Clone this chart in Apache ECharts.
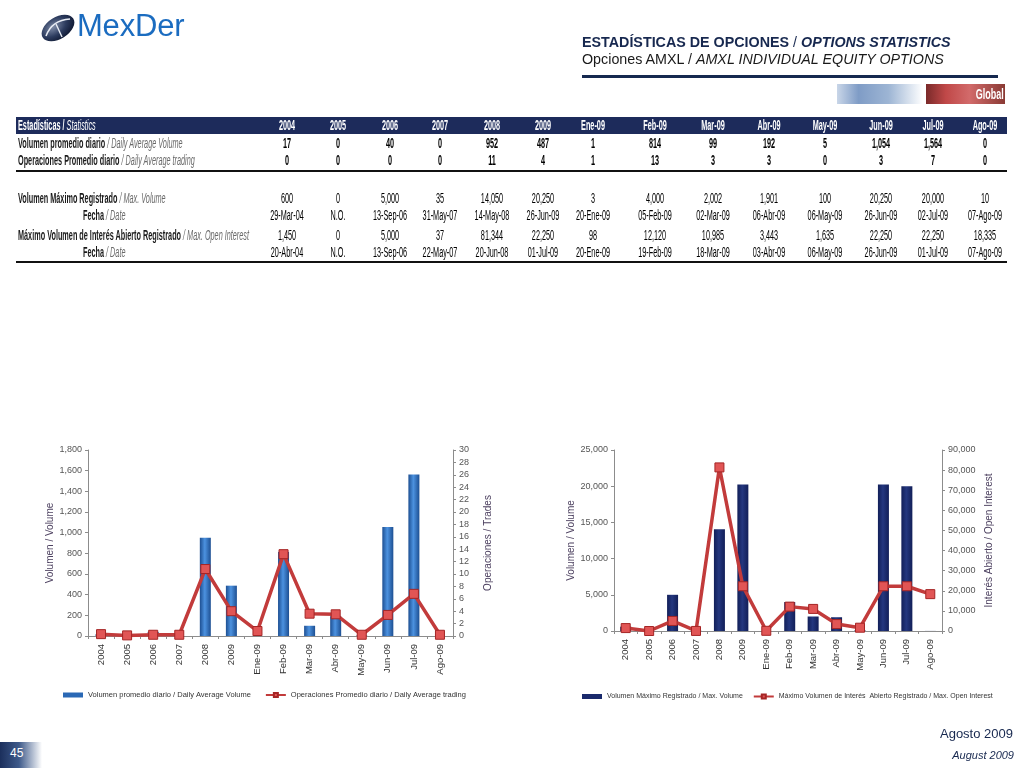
<!DOCTYPE html>
<html>
<head>
<meta charset="utf-8">
<script src="https://cdn.jsdelivr.net/npm/echarts@6/dist/echarts.min.js"></script>
<style>
  html, body { margin:0; padding:0; background:#fff; }
  body { width:1024px; height:768px; position:relative; overflow:hidden; font-family:"Liberation Sans", Arial, sans-serif; }
  #chart { position:absolute; left:0; top:0; width:1024px; height:768px; }
  .abs { position:absolute; white-space:nowrap; }
  .tbl { font-family:"Liberation Sans", Arial, sans-serif; font-size:14px; color:#000; }
  .cell { position:absolute; width:100px; text-align:center; white-space:nowrap; line-height:15px; transform:scaleX(0.52); transform-origin:50% 50%; }
  .lab { position:absolute; white-space:nowrap; line-height:15px; transform:scaleX(0.52); transform-origin:0 50%; }
  .en { font-style:italic; color:#6a6a6a; font-weight:normal; }
</style>
</head>
<body>
<div id="chart"></div>
<div id="overlay"></div>
<script>
// ---------------- DATA ----------------
const categories = ['2004','2005','2006','2007','2008','2009','Ene-09','Feb-09','Mar-09','Abr-09','May-09','Jun-09','Jul-09','Ago-09'];
const dailyVolume = [17, 0, 40, 0, 952, 487, 1, 814, 99, 192, 5, 1054, 1564, 0];
const dailyTrades = [0, 0, 0, 0, 11, 4, 1, 13, 3, 3, 0, 3, 7, 0];
// trades as plotted in the chart (unrounded)
const dailyTradesPlotted = [0.3, 0.1, 0.2, 0.2, 10.8, 4.0, 0.8, 13.2, 3.6, 3.5, 0.2, 3.4, 6.8, 0.2];
const maxVolume = [600, 0, 5000, 35, 14050, 20250, 3, 4000, 2002, 1901, 100, 20250, 20000, 10];
const maxVolumeDate = ['29-Mar-04','N.O.','13-Sep-06','31-May-07','14-May-08','26-Jun-09','20-Ene-09','05-Feb-09','02-Mar-09','06-Abr-09','06-May-09','26-Jun-09','02-Jul-09','07-Ago-09'];
const maxOpenInterest = [1450, 0, 5000, 37, 81344, 22250, 98, 12120, 10985, 3443, 1635, 22250, 22250, 18335];
const maxOpenInterestDate = ['20-Abr-04','N.O.','13-Sep-06','22-May-07','20-Jun-08','01-Jul-09','20-Ene-09','19-Feb-09','18-Mar-09','03-Abr-09','06-May-09','26-Jun-09','01-Jul-09','07-Ago-09'];
const leftAxisTicks = {min:0, max:1800, interval:200};
const rightAxisTicks = {min:0, max:30, interval:2};
const leftAxisTicks2 = {min:0, max:25000, interval:5000};
const rightAxisTicks2 = {min:0, max:90000, interval:10000};

// ---------------- HEADER / TABLE (HTML) ----------------
const fmt = v => typeof v === 'number' ? v.toLocaleString('en-US') : v;
const ov = document.getElementById('overlay');
let h = '';
// logo
h += `<svg class="abs" style="left:38px;top:10px" width="42" height="36" viewBox="0 0 42 36">
  <defs><radialGradient id="lg" cx="0.4" cy="0.35" r="0.7"><stop offset="0" stop-color="#7d8aa6"/><stop offset="0.55" stop-color="#2c3b5e"/><stop offset="1" stop-color="#0e1730"/></radialGradient></defs>
  <ellipse cx="20" cy="18" rx="18" ry="11" transform="rotate(-32 20 18)" fill="url(#lg)"/>
  <path d="M8 26 Q14 10 32 9" stroke="#e8ecf4" stroke-width="1.6" fill="none"/>
  <path d="M18 14 L24 27" stroke="#e8ecf4" stroke-width="1.4" fill="none"/>
</svg>`;
h += `<div class="abs" style="left:77px;top:8px;font-size:31px;color:#1b6cc0;font-family:'Liberation Sans',Arial,sans-serif;letter-spacing:-0.2px">MexDer</div>`;
// titles
h += `<div class="abs" style="left:582px;top:34px;font-size:14.3px;font-weight:bold;color:#17284f">ESTADÍSTICAS DE OPCIONES <span style="font-weight:normal">/</span> <i>OPTIONS STATISTICS</i></div>`;
h += `<div class="abs" style="left:582px;top:51px;font-size:14.3px;color:#1a1a1a">Opciones AMXL / <i>AMXL INDIVIDUAL EQUITY OPTIONS</i></div>`;
h += `<div class="abs" style="left:582px;top:75px;width:416px;height:3px;background:#16294f"></div>`;
h += `<div class="abs" style="left:837px;top:84px;width:86px;height:20px;background:linear-gradient(90deg,#c9d6e8 0%,#7f9cc6 25%,#9db5d4 60%,#ffffff 100%)"></div>`;
h += `<div class="abs" style="left:926px;top:84px;width:79px;height:20px;background:linear-gradient(90deg,#7a2a2a 0%,#c04848 25%,#d26a6a 55%,#8a3a34 100%)"></div>`;
h += `<div class="abs" style="right:20px;top:86px;font-size:15px;color:#fff;font-weight:bold;line-height:16px;transform:scaleX(0.6);transform-origin:100% 50%">Global</div>`;

// table
const colX = [287,338,390,440,492,543,593,655,713,769,825,881,933,985];
h += `<div class="tbl" style="position:absolute;left:0;top:0;width:1024px;height:300px">`;
h += `<div class="abs" style="left:16px;top:117px;width:991px;height:17px;background:#1d2b5b"></div>`;
h += `<div class="lab" style="left:18px;top:118px;color:#fff;font-weight:bold">Estadísticas / <span style="font-weight:normal;font-style:italic">Statistics</span></div>`;
categories.forEach((c,i)=>{ h += `<div class="cell" style="left:${colX[i]-50}px;top:118px;color:#fff;font-weight:bold">${c}</div>`; });
const rows = [
  {y:136, x:18, label:'Volumen promedio diario <span class="en">/ Daily Average Volume</span>', data:dailyVolume, bold:true},
  {y:153, x:18, label:'Operaciones Promedio diario <span class="en">/ Daily Average trading</span>', data:dailyTrades, bold:true},
  {y:191, x:18, label:'Volumen Máximo Registrado <span class="en">/ Max. Volume</span>', data:maxVolume, bold:false},
  {y:208, x:83, label:'Fecha <span class="en">/ Date</span>', data:maxVolumeDate, bold:false},
  {y:228, x:18, label:'Máximo Volumen de Interés Abierto Registrado <span class="en">/ Max. Open Interest</span>', data:maxOpenInterest, bold:false},
  {y:245, x:83, label:'Fecha <span class="en">/ Date</span>', data:maxOpenInterestDate, bold:false}
];
rows.forEach(r=>{
  h += `<div class="lab" style="left:${r.x}px;top:${r.y}px;font-weight:bold;color:#1a1a1a">${r.label}</div>`;
  r.data.forEach((v,i)=>{ h += `<div class="cell" style="left:${colX[i]-50}px;top:${r.y}px;${r.bold?'font-weight:bold;':''}">${fmt(v)}</div>`; });
});
h += `<div class="abs" style="left:16px;top:170px;width:991px;height:2px;background:#111"></div>`;
h += `<div class="abs" style="left:16px;top:261px;width:991px;height:2px;background:#111"></div>`;
h += `</div>`;
// footer
h += `<div class="abs" style="right:11px;top:726px;font-size:13px;color:#17284f">Agosto 2009</div>`;
h += `<div class="abs" style="right:10px;top:749px;font-size:11px;color:#17284f;font-style:italic">August 2009</div>`;
h += `<div class="abs" style="left:0;top:742px;width:42px;height:26px;background:linear-gradient(90deg,#1b2f5c 0%,#3e5a8a 45%,#ffffff 100%)"></div>`;
h += `<div class="abs" style="left:10px;top:746px;font-size:12px;color:#fff">45</div>`;
ov.innerHTML = h;

// ---------------- CHARTS ----------------
const chart = echarts.init(document.getElementById('chart'), null, {renderer:'canvas'});
const axisTxt = {color:'#555', fontSize:9, fontFamily:'Liberation Sans, Arial, sans-serif'};
const nameTxt = {color:'#4d4160', fontSize:10, fontFamily:'Liberation Sans, Arial, sans-serif'};
const axLine = {show:true, lineStyle:{color:'#8c8c8c', width:1}};
const axTick = {show:true, length:3, lineStyle:{color:'#8c8c8c'}};
const comma = v => v.toLocaleString('en-US');
const lineSeries = (name, data, xi, yi) => ({
  name, type:'line', data, xAxisIndex:xi, yAxisIndex:yi,
  symbol:'rect', symbolSize:9,
  lineStyle:{color:'#c23b3b', width:3.5},
  itemStyle:{color:'#e15555', borderColor:'#a52525', borderWidth:1},
  z:5
});
const xAxisBase = (gi) => ({
  type:'category', data:categories, gridIndex:gi,
  axisLine:axLine, axisTick:{show:true, length:3, alignWithLabel:false, lineStyle:{color:'#8c8c8c'}},
  axisLabel:{...axisTxt, color:'#333', fontSize:9.5, rotate:90, margin:8, interval:0}
});
const legendText = {fontSize:7.5, color:'#333', fontFamily:'Liberation Sans, Arial, sans-serif'};

const option = {
  animation:false,
  legend:[
    {left:58, top:686, itemGap:14, itemWidth:20, itemHeight:5, textStyle:legendText,
     data:[{name:'Volumen promedio diario / Daily Average Volume', icon:'rect', itemStyle:{color:'#2a68b5'}},
           {name:'Operaciones Promedio diario / Daily Average trading'}]},
    {left:577, top:688, itemGap:10, itemWidth:20, itemHeight:5, width:447, textStyle:{...legendText, fontSize:7},
     data:[{name:'Volumen Máximo Registrado / Max. Volume', icon:'rect', itemStyle:{color:'#1a2a6c'}},
           {name:'Máximo Volumen de Interés  Abierto Registrado / Max. Open Interest'}]}
  ],
  grid:[
    {left:88, top:450, width:365, height:186},
    {left:614, top:450, width:328, height:181}
  ],
  xAxis:[ xAxisBase(0), xAxisBase(1) ],
  yAxis:[
    {type:'value', gridIndex:0, ...leftAxisTicks, name:'Volumen / Volume', nameLocation:'middle', nameGap:32, nameTextStyle:nameTxt,
     axisLine:axLine, axisTick:axTick, splitLine:{show:false}, axisLabel:{...axisTxt, margin:6, formatter:comma}},
    {type:'value', gridIndex:0, position:'right', ...rightAxisTicks, name:'Operaciones / Trades', nameLocation:'middle', nameGap:30, nameRotate:90, nameTextStyle:nameTxt,
     axisLine:axLine, axisTick:axTick, splitLine:{show:false}, axisLabel:{...axisTxt, margin:6}},
    {type:'value', gridIndex:1, ...leftAxisTicks2, name:'Volumen / Volume', nameLocation:'middle', nameGap:38, nameTextStyle:nameTxt,
     axisLine:axLine, axisTick:axTick, splitLine:{show:false}, axisLabel:{...axisTxt, margin:6, formatter:comma}},
    {type:'value', gridIndex:1, position:'right', ...rightAxisTicks2, name:'Interés Abierto / Open Interest', nameLocation:'middle', nameGap:42, nameRotate:90, nameTextStyle:nameTxt,
     axisLine:axLine, axisTick:axTick, splitLine:{show:false}, axisLabel:{...axisTxt, margin:6, formatter:comma}}
  ],
  series:[
    {name:'Volumen promedio diario / Daily Average Volume', type:'bar', data:dailyVolume, xAxisIndex:0, yAxisIndex:0, barWidth:11,
     itemStyle:{color:new echarts.graphic.LinearGradient(0,0,1,0,[{offset:0,color:'#1d4f92'},{offset:0.45,color:'#4c92e0'},{offset:1,color:'#1d4f92'}])}},
    lineSeries('Operaciones Promedio diario / Daily Average trading', dailyTradesPlotted, 0, 1),
    {name:'Volumen Máximo Registrado / Max. Volume', type:'bar', data:maxVolume, xAxisIndex:1, yAxisIndex:2, barWidth:11,
     itemStyle:{color:new echarts.graphic.LinearGradient(0,0,1,0,[{offset:0,color:'#121f58'},{offset:0.45,color:'#24377f'},{offset:1,color:'#121f58'}])}},
    lineSeries('Máximo Volumen de Interés  Abierto Registrado / Max. Open Interest', maxOpenInterest, 1, 3)
  ]
};
chart.setOption(option);
</script>
</body>
</html>
